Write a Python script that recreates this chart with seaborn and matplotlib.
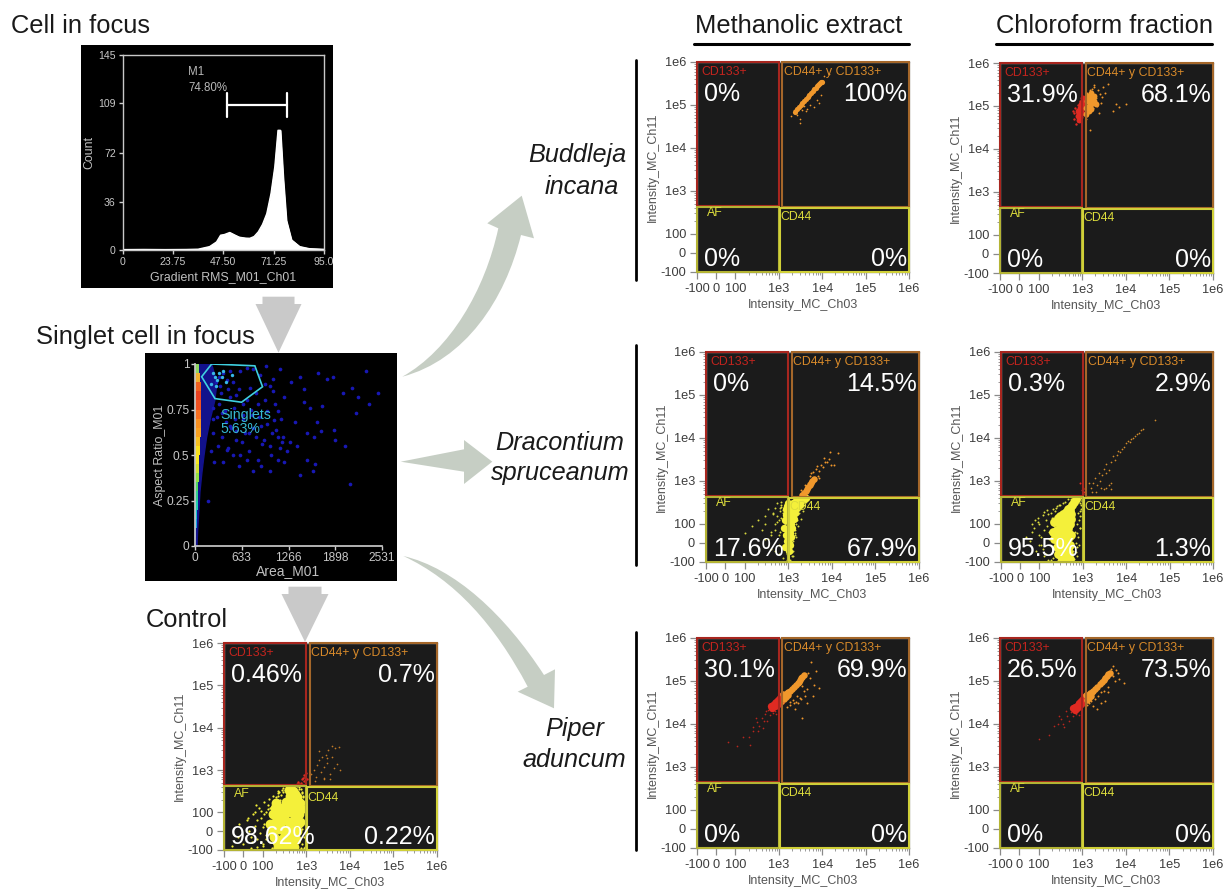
import numpy as np
import pandas as pd
import matplotlib
matplotlib.use('Agg')
import matplotlib.pyplot as plt
import seaborn as sns
from matplotlib.patches import Rectangle, Polygon, PathPatch
from matplotlib.path import Path

sns.set_theme(style='white')
plt.rcParams['font.family'] = ['Liberation Sans', 'DejaVu Sans']

W, H = 1223, 889

# Histograma
hist_x = [0, 10, 20, 30, 35.6, 41, 44.3, 46.2, 48, 50.5, 53, 55, 58, 60, 62, 64, 66, 68, 70, 71.8, 73.3, 74.4, 75.7, 77.2, 79.6, 83.5, 88, 95]
hist_y = [0.3, 0.4, 0.3, 0.4, 0.6, 2.5, 6, 11, 11.5, 13, 11, 9.5, 8.8, 8.7, 10, 13.5, 19, 27, 42, 62, 89, 89, 54, 22, 7.5, 2.5, 1, 0.5]
m1_start, m1_end, m1_level = 49, 77.5, 108

# Densidad singlets
stripe_aspect = [0.025, 0.075, 0.125, 0.175, 0.225, 0.275, 0.325, 0.375, 0.425, 0.475, 0.525, 0.575, 0.625, 0.675, 0.725, 0.775, 0.825, 0.875, 0.925, 0.975]
stripe_color = ['#1030d0', '#1060e0', '#10a0e0', '#10c0d0', '#20d0b0', '#30d090', '#50d860', '#90e040', '#d0e030', '#f8e820', '#f8e020', '#f8c020', '#f8a020', '#f89020', '#f87020', '#f05020', '#e84020', '#f06020', '#f0b030', '#90d860']
stripe_width = [15, 20, 25, 30, 35, 40, 45, 50, 55, 60, 65, 70, 75, 75, 80, 85, 85, 80, 70, 55]
band_aspect = [0, 0.1, 0.2, 0.3, 0.4, 0.5, 0.6, 0.7, 0.8, 0.9, 1]
band_width = [20, 30, 45, 60, 85, 115, 150, 200, 260, 290, 220]
gate_area = [90, 225, 810, 914, 630, 270, 90]
gate_aspect = [0.93, 1.0, 0.99, 0.875, 0.79, 0.81, 0.93]
dot_area = [330, 380, 430, 470, 520, 290, 340, 610, 700, 780, 880, 960, 1050, 1150, 1300, 1420, 1480, 1660, 1780, 1870, 2000, 2320, 2360, 2480, 2210, 2130, 2180,
            1720, 1650, 1560, 1470, 1350, 1210, 1080, 980, 870, 760, 650, 540, 480, 420, 360, 300, 240, 1040, 1130, 1180, 1020, 930, 830, 730, 640, 560, 1520, 1610, 1380, 1290,
            1620, 1510, 1420, 1880, 2030, 1250, 1120, 1020, 900, 780, 700, 600, 520, 450, 380, 260, 220, 180, 2100, 1900, 1700, 1600]
dot_aspect = [0.93, 0.95, 0.91, 0.96, 0.9, 0.9, 0.88, 0.96, 0.98, 0.97, 0.94, 0.99, 0.92, 0.97, 0.9, 0.93, 0.86, 0.95, 0.92, 0.93, 0.84, 0.96, 0.78, 0.84, 0.82, 0.87, 0.73,
              0.77, 0.68, 0.76, 0.79, 0.68, 0.82, 0.78, 0.74, 0.71, 0.75, 0.72, 0.7, 0.66, 0.68, 0.73, 0.71, 0.76, 0.62, 0.6, 0.57, 0.55, 0.58, 0.6, 0.62, 0.57, 0.63, 0.62, 0.6, 0.55, 0.57,
              0.45, 0.47, 0.39, 0.64, 0.55, 0.52, 0.47, 0.41, 0.44, 0.41, 0.47, 0.44, 0.5, 0.54, 0.46, 0.46, 0.52, 0.25, 0.34, 0.58, 0.63, 0.41]
dot2_area = [250, 310, 370, 430, 490, 550, 610, 670, 730, 790, 850, 910, 970, 1030, 1090, 1150, 1210, 250, 330, 410, 470, 530, 590, 650, 710, 770, 830, 890, 950, 1010, 1070, 1130, 1190, 350, 450, 550, 650, 750, 850, 950, 1060, 1170]
dot2_aspect = [0.62, 0.55, 0.6, 0.53, 0.65, 0.58, 0.5, 0.62, 0.52, 0.65, 0.47, 0.56, 0.67, 0.5, 0.64, 0.54, 0.46, 0.7, 0.78, 0.74, 0.82, 0.76, 0.86, 0.7, 0.8, 0.72, 0.84, 0.66, 0.8, 0.88, 0.69, 0.74, 0.6, 0.84, 0.86, 0.83, 0.78, 0.87, 0.78, 0.89, 0.85, 0.7]
inner_area = [240, 270, 300, 330, 360, 380, 420, 500, 220, 280]
inner_aspect = [0.95, 0.93, 0.91, 0.95, 0.93, 0.96, 0.9, 0.94, 0.89, 0.88]

# Control
ctrl_core_x = [400, 450, 500, 420, 480, 550, 620, 350, 420, 500, 580, 650, 720, 280, 350, 430, 510, 590, 670, 750, 220, 290, 360, 440, 520, 600, 680,
               200, 260, 330, 400, 480, 560, 640, 720, 240, 310, 380, 460, 540, 620, 280, 350, 430, 510, 590, 300, 370, 440, 520,
               150, 170, 190, 160, 180, 210, 200, 230]
ctrl_core_y = [340, 300, 320, 250, 240, 270, 230, 180, 190, 200, 190, 180, 170, 130, 140, 150, 140, 130, 140, 120, 90, 90, 100, 100, 90, 90, 90,
               50, 50, 60, 50, 50, 50, 40, 50, 10, 0, 10, 0, 10, 0, -40, -50, -40, -50, -40, -80, -85, -80, -85,
               40, 90, 130, 0, -30, -60, 170, -85]
ctrl_yellow_x = [-60, -30, -20, 0, 20, 30, 40, 50, 60, 70, 80, 90, 100, 110, 120, 140, 150, 170, 180, 200, 220, 240, 250, 280, 300, 350, 380, 420, 700, 800, 850, 900, 950, 980, 780, 880, 60, 100, 40, 130, 90, 160, 120, 70, 190, 230, 150, 170]
ctrl_yellow_y = [-80, -30, 40, -70, 60, 0, -90, 90, 30, -40, 130, 70, -80, 180, 100, 210, 20, 250, -90, 230, 280, 300, -60, 340, 380, 420, 400, 440, 350, 300, 250, 180, 100, 20, -70, -90, 100, 20, -30, 150, -60, 60, -20, -85, 170, 320, 130, -50]
ctrl2_x = [70, 90, 110, 130, 150, 170, 190, 210, 130, 150, 170, 190, 210, 230, 250, 270, 100, 120, 140, 160, 180, 200, 220, 240, 260, 290, 320, 360, 400, 450, 500, 560, 620, 680, 740, 800, 860, 920, 960, 990, 930, 870, 810, 750, 690, 110, 85, 65, 45, 25]
ctrl2_y = [60, 110, 40, 120, 80, 170, 130, 190, -20, -60, 20, -85, 150, 240, 200, 260, -70, -40, 0, -90, 60, -30, 20, -75, 110, 300, 330, 360, 390, 430, 410, 450, 420, 390, 360, 280, 230, 160, 60, -40, -85, -30, 10, -90, -60, 90, -10, 150, -60, 70]
ctrl_red_x = [600, 650, 700, 780, 850, 900, 950, 1000, 1050, 880, 760]
ctrl_red_y = [470, 520, 480, 600, 650, 750, 700, 850, 620, 560, 500]
ctrl_orange_x = [1300, 1500, 1700, 1800, 2000, 2200, 2300, 2500, 2600, 2800, 3000, 3200, 3500, 3800, 4000, 4300, 4500, 5000, 5500, 6000, 1600, 2000, 2500, 3000, 3600]
ctrl_orange_y = [800, 1000, 700, 1300, 1700, 900, 2000, 600, 1200, 2300, 1500, 3000, 800, 2000, 3700, 1100, 3300, 1400, 3500, 1000, 550, 2800, 650, 1900, 600]

# Buddleja
bm_core_x = [2400, 2650, 2900, 3200, 3500, 3850, 4200, 4600, 5000, 5500, 6000, 6500, 7000, 7500, 8000, 8500, 9000, 9500, 10000]
bm_core_y = [70000, 80000, 90000, 100000, 110000, 125000, 140000, 155000, 170000, 190000, 210000, 230000, 250000, 270000, 290000, 305000, 320000, 335000, 350000]
bm_orange_x = [1900, 2200, 2600, 3000, 3400, 3800, 4400, 5200, 6500, 7500, 8500, 9500, 11000, 14000, 3000, 4200]
bm_orange_y = [55000, 78000, 60000, 38000, 75000, 95000, 80000, 100000, 90000, 130000, 110000, 170000, 480000, 520000, 48000, 72000]
bc_red_x = [600, 650, 700, 750, 800, 850, 900, 950, 1000, 1000, 900, 820, 720, 640]
bc_red_y = [75000, 50000, 90000, 60000, 105000, 75000, 60000, 95000, 120000, 70000, 130000, 45000, 38000, 70000]
bc_red_core_x = [800, 880, 950, 1020, 780, 860, 940, 1020, 900, 980, 840, 1040]
bc_red_core_y = [75000, 90000, 110000, 130000, 60000, 70000, 85000, 100000, 55000, 70000, 48000, 150000]
bc_orange_core_x = [1250, 1400, 1550, 1700, 1900, 1300, 1450, 1650, 1850, 1250, 1400, 1600, 1350, 1550, 2100]
bc_orange_core_y = [90000, 100000, 110000, 120000, 130000, 130000, 140000, 155000, 170000, 65000, 75000, 85000, 175000, 200000, 110000]
bc_orange_x = [1200, 1300, 1500, 1700, 1900, 2100, 2300, 2500, 2700, 3000, 3400, 3800, 5000, 6000, 7000, 10000, 1800, 2200, 1500, 1300, 2400, 1700, 1900, 2800]
bc_orange_y = [50000, 200000, 230000, 180000, 270000, 150000, 240000, 190000, 120000, 280000, 200000, 330000, 75000, 110000, 95000, 110000, 90000, 100000, 28000, 60000, 70000, 250000, 300000, 160000]

# Dracontium
dm_core_x = [1020, 1050, 1080, 1120, 1000, 1060, 1120, 1180, 1020, 1090, 1170, 1250, 1050, 1130, 1220, 1320, 1100, 1200, 1320, 1450, 1180, 1300, 1450, 1600, 1300, 1450, 1650, 1850, 1500, 1750, 2000, 2300, 2600,
             850, 900, 950, 800, 850, 900, 950, 880, 930, 1000]
dm_core_y = [-40, 0, 30, -10, 60, 70, 50, 30, 110, 120, 100, 80, 160, 170, 150, 130, 210, 220, 200, 180, 260, 270, 250, 230, 300, 320, 300, 280, 340, 360, 340, 370, 400,
             -20, 40, 10, 80, 120, 160, 130, 220, 260, 300]
dm_orange_core_x = [2100, 2300, 2500, 2700, 2900, 3100, 3300, 3500, 3800]
dm_orange_core_y = [470, 520, 580, 650, 720, 800, 900, 1000, 1100]
dm_yellow_x = [100, 150, 200, 250, 300, 350, 400, 450, 500, 550, 600, 650, 700, 750, 800, 850, 900, 950, 1100, 1200, 1300, 1400, 1500, 1700, 1900, 2200, 2500, 600, 300, 400, 500, 550, 750, 850, 700, 650, 800, 900, 500, 1300, 1200, 1500, 1400, 1100]
dm_yellow_y = [50, 90, 120, 70, 150, 220, -30, 170, 100, 300, 40, 200, 140, -80, 70, 250, 20, -60, -20, -50, 10, 70, 100, 170, 260, 200, 350, -10, 20, 60, -40, 110, 180, 120, 280, 230, -30, 170, 240, -70, 30, 30, 50, -90]
dm2_x = [300, 400, 500, 600, 700, 800, 900, 1000, 950, 850, 750, 650, 550, 450, 350, 1200, 1300, 1400, 1600, 1800, 2000, 2300, 2600, 1500, 1700, 950, 900, 800, 700, 600]
dm2_y = [100, 40, 70, -60, 250, -20, 300, 350, 150, 100, 210, 60, 150, 180, 20, -70, -40, 40, 120, 180, 130, 280, 330, 230, 90, -90, 80, 190, 330, 120]
dm_orange_x = [2000, 2400, 2800, 3100, 3400, 3700, 4000, 4300, 4700, 5200, 5700, 6300, 7000, 7800, 8500, 9000, 9500, 11000, 14000, 4500, 3300, 5000, 6500, 2600]
dm_orange_y = [600, 800, 900, 1300, 800, 1600, 1000, 1900, 1300, 1700, 2400, 2100, 2700, 2800, 3200, 4800, 2300, 2400, 4500, 2200, 1500, 1200, 3500, 550]
dc_core_x = [300, 350, 400, 450, 500, 560, 620, 700, 220, 270, 320, 370, 420, 470, 530, 200, 250, 300, 350, 400, 450, 500, 220, 270, 320, 370, 420, 470, 530, 250, 300, 350, 400, 450, 500, 270, 320, 370, 420, 470, 330, 390, 450, 510,
             270, 340, 420, 500, 300, 380, 460, 540, 240, 310, 380, 460, 290, 360, 430, 300, 380, 460]
dc_core_y = [150, 170, 190, 220, 240, 280, 320, 370, 110, 120, 130, 140, 130, 150, 170, 60, 70, 70, 80, 90, 80, 100, 20, 10, 30, 20, 10, 30, 40, -20, -30, -20, -10, -30, -10, -60, -70, -60, -70, -60, -90, -90, -90, -85,
             140, 150, 170, 200, 95, 105, 115, 130, 40, 45, 50, 55, 0, -5, 0, -45, -45, -45]
dc_yellow_x = [30, 50, 70, 80, 90, 100, 110, 120, 130, 140, 150, 170, 180, 200, 210, 230, 250, 280, 300, 700, 800, 850, 900, 950, 1000, 1000, 950, 850, 750, 650, 550, 520, 480, 430, 680, 720, 780, 850, 780, 900, 100, 130, 160, 190, 60, 220]
dc_yellow_y = [30, 10, 80, -40, 140, 40, -10, 160, -70, 120, 210, 60, -90, 220, 10, -30, 260, 280, -90, 350, 380, 300, 400, 350, 420, 250, 200, 150, 100, 60, 330, 370, -90, -85, -50, -20, 30, 80, 180, 220, 100, 70, 170, 140, 100, 90]
dc2_x = [60, 90, 120, 150, 180, 210, 240, 270, 300, 340, 380, 420, 460, 500, 550, 600, 650, 700, 750, 800, 850, 900, 950, 1000, 960, 880, 800, 720, 640, 580, 110, 140, 170, 200, 130, 95, 75, 160, 230, 260]
dc2_y = [60, 110, -30, 90, 180, -80, 240, -90, 280, 300, 330, -90, 370, -80, -60, -40, -20, 0, 50, 120, 200, 280, 340, 380, 150, 80, -10, -70, -85, 380, 30, -60, 20, 140, 190, -10, 120, -90, 200, -50]
dc_orange_x = [1500, 1700, 1900, 2100, 2300, 2600, 3000, 3500, 4000, 4500, 5000, 5500, 6000, 6500, 7000, 8000, 9000, 10000, 11000, 12000, 13000, 14000, 16000, 18000, 20000, 22000, 24000, 45000, 2000, 2500, 3000, 3500, 4000, 4500, 1400, 1600, 3500, 4500, 2700]
dc_orange_y = [700, 900, 1200, 800, 1500, 700, 1900, 2500, 1800, 2800, 3800, 3000, 4100, 5000, 4700, 5500, 6000, 7600, 8500, 8000, 9300, 10000, 11000, 12500, 13000, 15000, 16000, 26000, 550, 1000, 650, 1500, 800, 650, 900, 550, 700, 900, 1400]
dc_red_x = [850, 950, 1000, 1050, 1100, 1000]
dc_red_y = [900, 600, 700, 550, 650, 500]

# Piper
pm_red_core_x = [650, 720, 800, 880, 960, 1050, 700, 800, 900, 1000, 1100, 1150]
pm_red_core_y = [26000, 28000, 30000, 33000, 36000, 40000, 24000, 26000, 28000, 31000, 34000, 45000]
pm_red_x = [60, 110, 150, 200, 220, 260, 310, 350, 400, 430, 480, 530, 570, 620, 670, 720, 760, 800, 850, 330, 250, 500, 600, 450, 300]
pm_red_y = [3800, 3000, 5000, 5000, 3300, 7000, 11000, 9000, 14000, 8000, 17000, 12000, 21000, 16000, 24000, 18000, 22000, 20000, 17000, 7000, 8500, 20000, 24000, 12000, 14000]
pm_or_core_x = [1250, 1350, 1500, 1650, 1800, 2000, 2200, 2450, 2700, 2900, 3100, 3300, 3500, 3800, 1300, 1450, 1600]
pm_or_core_y = [50000, 47000, 52000, 55000, 58000, 65000, 72000, 80000, 90000, 97000, 105000, 115000, 125000, 140000, 38000, 42000, 46000]
pm_orange_x = [1250, 1500, 1800, 2100, 2400, 2800, 3200, 3500, 4000, 4400, 4800, 5500, 7000, 8500, 6500, 6000, 3900, 3000, 2600, 1800, 2200, 2500, 4500, 3800, 3400, 3000, 5200]
pm_orange_y = [30000, 25000, 32000, 36000, 22000, 30000, 38000, 14000, 45000, 65000, 150000, 280000, 170000, 70000, 80000, 45000, 145000, 130000, 45000, 28000, 30000, 32000, 30000, 60000, 75000, 40000, 120000]
pc_red_core_x = [620, 700, 780, 860, 950, 1050, 680, 760, 860, 960, 1060, 1120]
pc_red_core_y = [23000, 25000, 27000, 30000, 34000, 38000, 21000, 23000, 26000, 29000, 32000, 42000]
pc_red_x = [100, 170, 220, 280, 330, 390, 450, 500, 560, 610, 670, 720, 770, 830, 900, 430, 360, 300]
pc_red_y = [4500, 5500, 9000, 10000, 13000, 8500, 15000, 12000, 19000, 15000, 22000, 17000, 20000, 16000, 22000, 20000, 10000, 15000]
pc_or_core_x = [1250, 1350, 1500, 1650, 1800, 2000, 2200, 2500, 2800, 3100, 3400, 3700, 4000, 4300, 1300, 1450, 1600]
pc_or_core_y = [48000, 46000, 52000, 56000, 60000, 66000, 72000, 85000, 95000, 105000, 118000, 130000, 142000, 155000, 37000, 41000, 45000]
pc_orange_x = [1300, 1600, 2000, 2300, 2700, 3200, 3800, 4500, 5200, 6000, 7000, 9000, 5000, 4000, 3300, 2700, 2200, 1800, 1400, 5500, 6500]
pc_orange_y = [28000, 34000, 38000, 45000, 55000, 60000, 72000, 190000, 220000, 180000, 110000, 90000, 130000, 55000, 35000, 30000, 22000, 26000, 30000, 100000, 150000]

# Etiquetas de porcentajes: [CD133+, CD44+ y CD133+, AF, CD44]
ctrl_pct = ['0.46%', '0.7%', '98.62%', '0.22%']
bm_pct = ['0%', '100%', '0%', '0%']
bc_pct = ['31.9%', '68.1%', '0%', '0%']
dm_pct = ['0%', '14.5%', '17.6%', '67.9%']
dc_pct = ['0.3%', '2.9%', '95.5%', '1.3%']
pm_pct = ['30.1%', '69.9%', '0%', '0%']
pc_pct = ['26.5%', '73.5%', '0%', '0%']

tick_vals = [-100, 0, 100, 1e3, 1e4, 1e5, 1e6]
tick_text = ['-100', '0', '100', '1e3', '1e4', '1e5', '1e6']

YELLOW = '#f4f03a'
ORANGE = '#f0982c'
RED = '#e02a22'
ARROW = '#c6cec4'


def fwd(v):
    v = np.asarray(v, dtype=float)
    low = (v + 100) / 200 * 0.885
    high = 0.885 + np.log10(np.maximum(v, 100) / 100) * 0.9975
    return np.where(v < 100, low, high)


def inv(t):
    t = np.asarray(t, dtype=float)
    low = t / 0.885 * 200 - 100
    high = 100 * 10 ** ((t - 0.885) / 0.9975)
    return np.where(t < 0.885, low, high)


def px_axes(x0, y0, x1, y1, **kw):
    return fig.add_axes([x0 / W, 1 - y1 / H, (x1 - x0) / W, (y1 - y0) / H], **kw)


fig = plt.figure(figsize=(W / 100, H / 100), dpi=100, facecolor='white')

bg = px_axes(0, 0, W, H)
bg.set_xlim(0, W)
bg.set_ylim(H, 0)
bg.axis('off')
bg.set_zorder(0)

fg = px_axes(0, 0, W, H)
fg.set_xlim(0, W)
fg.set_ylim(H, 0)
fg.axis('off')
fg.patch.set_alpha(0)
fg.set_zorder(10)


def dots(ax, xs, ys, color, s):
    df = pd.DataFrame({'x': xs, 'y': ys})
    sns.scatterplot(data=df, x='x', y='y', color=color, s=s, linewidth=0, ax=ax, legend=False)


def flow_panel(x0, y0, x1, y1, pct, clouds):
    ax = px_axes(x0, y0, x1, y1, facecolor='#1b1b1b')
    ax.set_zorder(2)
    ax.set_xscale('function', functions=(fwd, inv))
    ax.set_yscale('function', functions=(fwd, inv))
    for xs, ys, color, s in clouds:
        dots(ax, xs, ys, color, s)
    ax.set_xlim(-100, 1e6)
    ax.set_ylim(-100, 1e6)
    minor = [m * 10 ** e for e in (2, 3, 4, 5) for m in range(2, 10)]
    ax.set_xticks(tick_vals)
    ax.set_yticks(tick_vals)
    ax.set_xticks(minor, minor=True)
    ax.set_yticks(minor, minor=True)
    ax.set_xticklabels(tick_text)
    ax.set_yticklabels(tick_text)
    ax.tick_params(which='major', length=5, width=0.9, color='#8a8a8a', labelsize=9.2, labelcolor='#3c3c3c', pad=3, bottom=True, left=True)
    ax.tick_params(which='minor', length=2.5, width=0.7, color='#9a9a9a', bottom=True, left=True)
    ax.set_xlabel('Intensity_MC_Ch03', fontsize=9, color='#555555', labelpad=3)
    ax.set_ylabel('Intensity_MC_Ch11', fontsize=9, color='#555555', labelpad=1)
    for sp in ax.spines.values():
        sp.set_color('#9a9a9a')
        sp.set_linewidth(1)
    # compuertas
    ax.add_patch(Rectangle((-100, 440), 1100, 1e6 - 440, fill=False, ec='#a8261f', lw=1.5, zorder=3, clip_on=False))
    ax.add_patch(Rectangle((1200, 420), 1e6 - 1200, 1e6 - 420, fill=False, ec='#a5672a', lw=1.5, zorder=3, clip_on=False))
    ax.add_patch(Rectangle((-100, -100), 1100, 530, fill=False, ec='#b4b434', lw=1.5, zorder=3, clip_on=False))
    ax.add_patch(Rectangle((1050, -100), 1e6 - 1050, 500, fill=False, ec='#d0d038', lw=1.5, zorder=3, clip_on=False))
    fg.text(x0 + 4, y0 + 10, 'CD133+', color='#c3241e', fontsize=8.9, va='center')
    fg.text(x0 + 87, y0 + 10, 'CD44+ y CD133+', color='#d88a2a', fontsize=8.9, va='center')
    fg.text(x0 + 10, y0 + 151, 'AF', color='#dcdc3c', fontsize=8.9, va='center')
    fg.text(x0 + 83, y0 + 155, 'CD44', color='#dcdc3c', fontsize=8.9, va='center')
    fg.text(x0 + 7, y0 + 32, pct[0], color='white', fontsize=18, va='center')
    fg.text(x1 - 2, y0 + 32, pct[1], color='white', fontsize=18, va='center', ha='right')
    fg.text(x0 + 7, y1 - 13, pct[2], color='white', fontsize=18, va='center')
    fg.text(x1 - 2, y1 - 13, pct[3], color='white', fontsize=18, va='center', ha='right')
    return ax


# Flechas grises
for xc, top, neck, tip, half_s, half_h in ((278.5, 296.7, 304, 352.7, 16, 23), (305, 586.7, 594, 642, 16.5, 23.5)):
    bg.add_patch(Polygon([(xc - half_s, top), (xc + half_s, top), (xc + half_s, neck), (xc + half_h, neck), (xc, tip),
                          (xc - half_h, neck), (xc - half_s, neck)], closed=True, fc='#c9c9c9', ec='none'))

# Flechas curvas
C3, L2 = Path.CURVE4, Path.LINETO
bg.add_patch(PathPatch(Path([(402.3, 376.7), (450, 350), (485, 290), (498.3, 228.3), (487.3, 223.3), (521.7, 195.7), (534, 238.3), (521, 235), (505, 300), (465, 360), (402.3, 376.7)],
                            [Path.MOVETO, C3, C3, C3, L2, L2, L2, L2, C3, C3, C3]), fc=ARROW, ec='none'))
bg.add_patch(Polygon([(400.7, 461.7), (464, 449.3), (464, 440), (492.3, 461.7), (464, 484), (464, 471.7)], closed=True, fc=ARROW, ec='none'))
bg.add_patch(PathPatch(Path([(403.3, 556), (455, 568), (505, 615), (544, 675), (555, 669.3), (554, 708.3), (517.7, 691.7), (527.7, 686.7), (495, 625), (455, 580), (403.3, 556)],
                            [Path.MOVETO, C3, C3, C3, L2, L2, L2, L2, C3, C3, C3]), fc=ARROW, ec='none'))

# Panel del histograma
bg.add_patch(Rectangle((81, 45), 252, 243, fc='black', ec='none'))
ax_h = px_axes(122.7, 55, 324, 250, facecolor='black')
ax_h.set_zorder(2)
df_h = pd.DataFrame({'x': hist_x, 'y': hist_y})
sns.lineplot(data=df_h, x='x', y='y', color='white', lw=1, ax=ax_h, legend=False)
ax_h.fill_between(hist_x, hist_y, color='white')
ax_h.plot([m1_start, m1_end], [m1_level, m1_level], color='white', lw=1.6)
ax_h.plot([m1_start, m1_start], [99, 117], color='white', lw=1.6)
ax_h.plot([m1_end, m1_end], [99, 117], color='white', lw=1.6)
ax_h.text(31, 132, 'M1', color='#b8b8b8', fontsize=8.3, va='center')
ax_h.text(31, 120.5, '74.80%', color='#b8b8b8', fontsize=8.3, va='center')
ax_h.set_xlim(0, 95)
ax_h.set_ylim(0, 145)
ax_h.set_xticks([0, 23.75, 47.5, 71.25, 95], ['0', '23.75', '47.50', '71.25', '95.0'])
ax_h.set_yticks([0, 36, 72, 109, 145], ['0', '36', '72', '109', '145'])
ax_h.tick_params(length=3, width=1, color='#d0d0d0', labelcolor='#c8c8c8', labelsize=7.6, pad=2, bottom=True, left=True)
ax_h.set_xlabel('Gradient RMS_M01_Ch01', color='#c0c0c0', fontsize=8.9, labelpad=3)
ax_h.set_ylabel('Count', color='#c0c0c0', fontsize=8.9, labelpad=2)
for sp in ax_h.spines.values():
    sp.set_color('#c8c8c8')
    sp.set_linewidth(1)

# Panel de densidad
bg.add_patch(Rectangle((145, 353), 252, 228, fc='black', ec='none'))
ax_d = px_axes(195, 364, 382, 546, facecolor='black')
ax_d.set_zorder(2)
ax_d.fill_betweenx(band_aspect, 0, band_width, color='#12128c')
sns.scatterplot(x=dot_area, y=dot_aspect, color='#1818b4', s=7, linewidth=0, ax=ax_d, legend=False)
sns.scatterplot(x=dot2_area, y=dot2_aspect, color='#1818b4', s=7, linewidth=0, ax=ax_d, legend=False)
sns.scatterplot(x=inner_area, y=inner_aspect, color='#38b8e8', s=6, linewidth=0, ax=ax_d, legend=False)
ax_d.barh(stripe_aspect, stripe_width, height=0.05, left=0, color=stripe_color, linewidth=0)
ax_d.add_patch(Polygon(np.column_stack([gate_area, gate_aspect]), closed=True, fill=False, ec='#3fd0e0', lw=1.2))
ax_d.text(340, 0.72, 'Singlets', color='#38b8d0', fontsize=10.2, va='center')
ax_d.text(340, 0.645, '5.63%', color='#38b8d0', fontsize=10.2, va='center')
ax_d.set_xlim(0, 2531)
ax_d.set_ylim(0, 1)
ax_d.set_xticks([0, 633, 1266, 1898, 2531], ['0', '633', '1266', '1898', '2531'])
ax_d.set_yticks([0, 0.25, 0.5, 0.75, 1], ['0', '0.25', '0.5', '0.75', '1'])
ax_d.tick_params(length=3, width=1, color='#d0d0d0', labelcolor='#c8c8c8', labelsize=8.6, pad=1, bottom=True, left=True)
ax_d.set_xlabel('Area_M01', color='#c0c0c0', fontsize=10, labelpad=0)
ax_d.set_ylabel('Aspect Ratio_M01', color='#c0c0c0', fontsize=8.9, labelpad=0)
for side, sp in ax_d.spines.items():
    sp.set_visible(side in ('left', 'bottom'))
    sp.set_color('#c8c8c8')

# Paneles de citometria
flow_panel(224, 643, 437, 850, ctrl_pct, [(ctrl_yellow_x, ctrl_yellow_y, YELLOW, 2.5), (ctrl2_x, ctrl2_y, YELLOW, 2.5), (ctrl_core_x, ctrl_core_y, YELLOW, 50),
                                          (ctrl_red_x, ctrl_red_y, RED, 3), (ctrl_orange_x, ctrl_orange_y, '#c07a28', 1.5)])
flow_panel(697, 62, 909, 272, bm_pct, [(bm_orange_x, bm_orange_y, ORANGE, 1.5), (bm_core_x, bm_core_y, ORANGE, 14)])
flow_panel(1000, 63, 1213, 273, bc_pct, [(bc_red_x, bc_red_y, RED, 3), (bc_red_core_x, bc_red_core_y, RED, 18),
                                         (bc_orange_x, bc_orange_y, ORANGE, 2), (bc_orange_core_x, bc_orange_core_y, ORANGE, 18)])
flow_panel(706, 352, 919, 562, dm_pct, [(dm_yellow_x, dm_yellow_y, '#d8d840', 2), (dm2_x, dm2_y, '#d8d840', 2), (dm_core_x, dm_core_y, YELLOW, 28),
                                        (dm_orange_x, dm_orange_y, ORANGE, 2), (dm_orange_core_x, dm_orange_core_y, ORANGE, 22)])
flow_panel(1001, 352, 1213, 562, dc_pct, [(dc_yellow_x, dc_yellow_y, '#e0e040', 2), (dc2_x, dc2_y, '#e0e040', 2), (dc_core_x, dc_core_y, YELLOW, 40),
                                          (dc_orange_x, dc_orange_y, '#d08a2c', 1.5), (dc_red_x, dc_red_y, RED, 2)])
flow_panel(697, 638, 909, 848, pm_pct, [(pm_red_x, pm_red_y, '#b8261e', 1.5), (pm_red_core_x, pm_red_core_y, RED, 28),
                                        (pm_orange_x, pm_orange_y, ORANGE, 2), (pm_or_core_x, pm_or_core_y, ORANGE, 22)])
flow_panel(1000, 638, 1213, 848, pc_pct, [(pc_red_x, pc_red_y, '#b8261e', 1.5), (pc_red_core_x, pc_red_core_y, RED, 28),
                                          (pc_orange_x, pc_orange_y, ORANGE, 2), (pc_or_core_x, pc_or_core_y, ORANGE, 22)])

# Textos generales
fg.text(11, 26, 'Cell in focus', fontsize=18.4, color='#1a1a1a', va='center')
fg.text(36, 337, 'Singlet cell in focus', fontsize=18.4, color='#1a1a1a', va='center')
fg.text(146, 620, 'Control', fontsize=18.4, color='#1a1a1a', va='center')
fg.text(799, 26, 'Methanolic extract', fontsize=18.4, color='#1a1a1a', va='center', ha='center')
fg.text(1105, 26, 'Chloroform fraction', fontsize=18.4, color='#1a1a1a', va='center', ha='center')
fg.plot([694, 909], [44, 44], color='black', lw=2.2)
fg.plot([996, 1212], [44, 44], color='black', lw=2.2)
for y0, y1 in ((60, 280), (345, 565), (632, 850)):
    fg.plot([636, 636], [y0, y1], color='black', lw=2)
for txt, x, y in (('Buddleja', 577.5, 155), ('incana', 581.5, 187), ('Dracontium', 560, 443), ('spruceanum', 560, 473),
                  ('Piper', 575, 729), ('aduncum', 574.5, 760)):
    fg.text(x, y, txt, fontsize=18.2, style='italic', color='#1a1a1a', va='center', ha='center')

fig.savefig('out.png', dpi=100, facecolor='white')
